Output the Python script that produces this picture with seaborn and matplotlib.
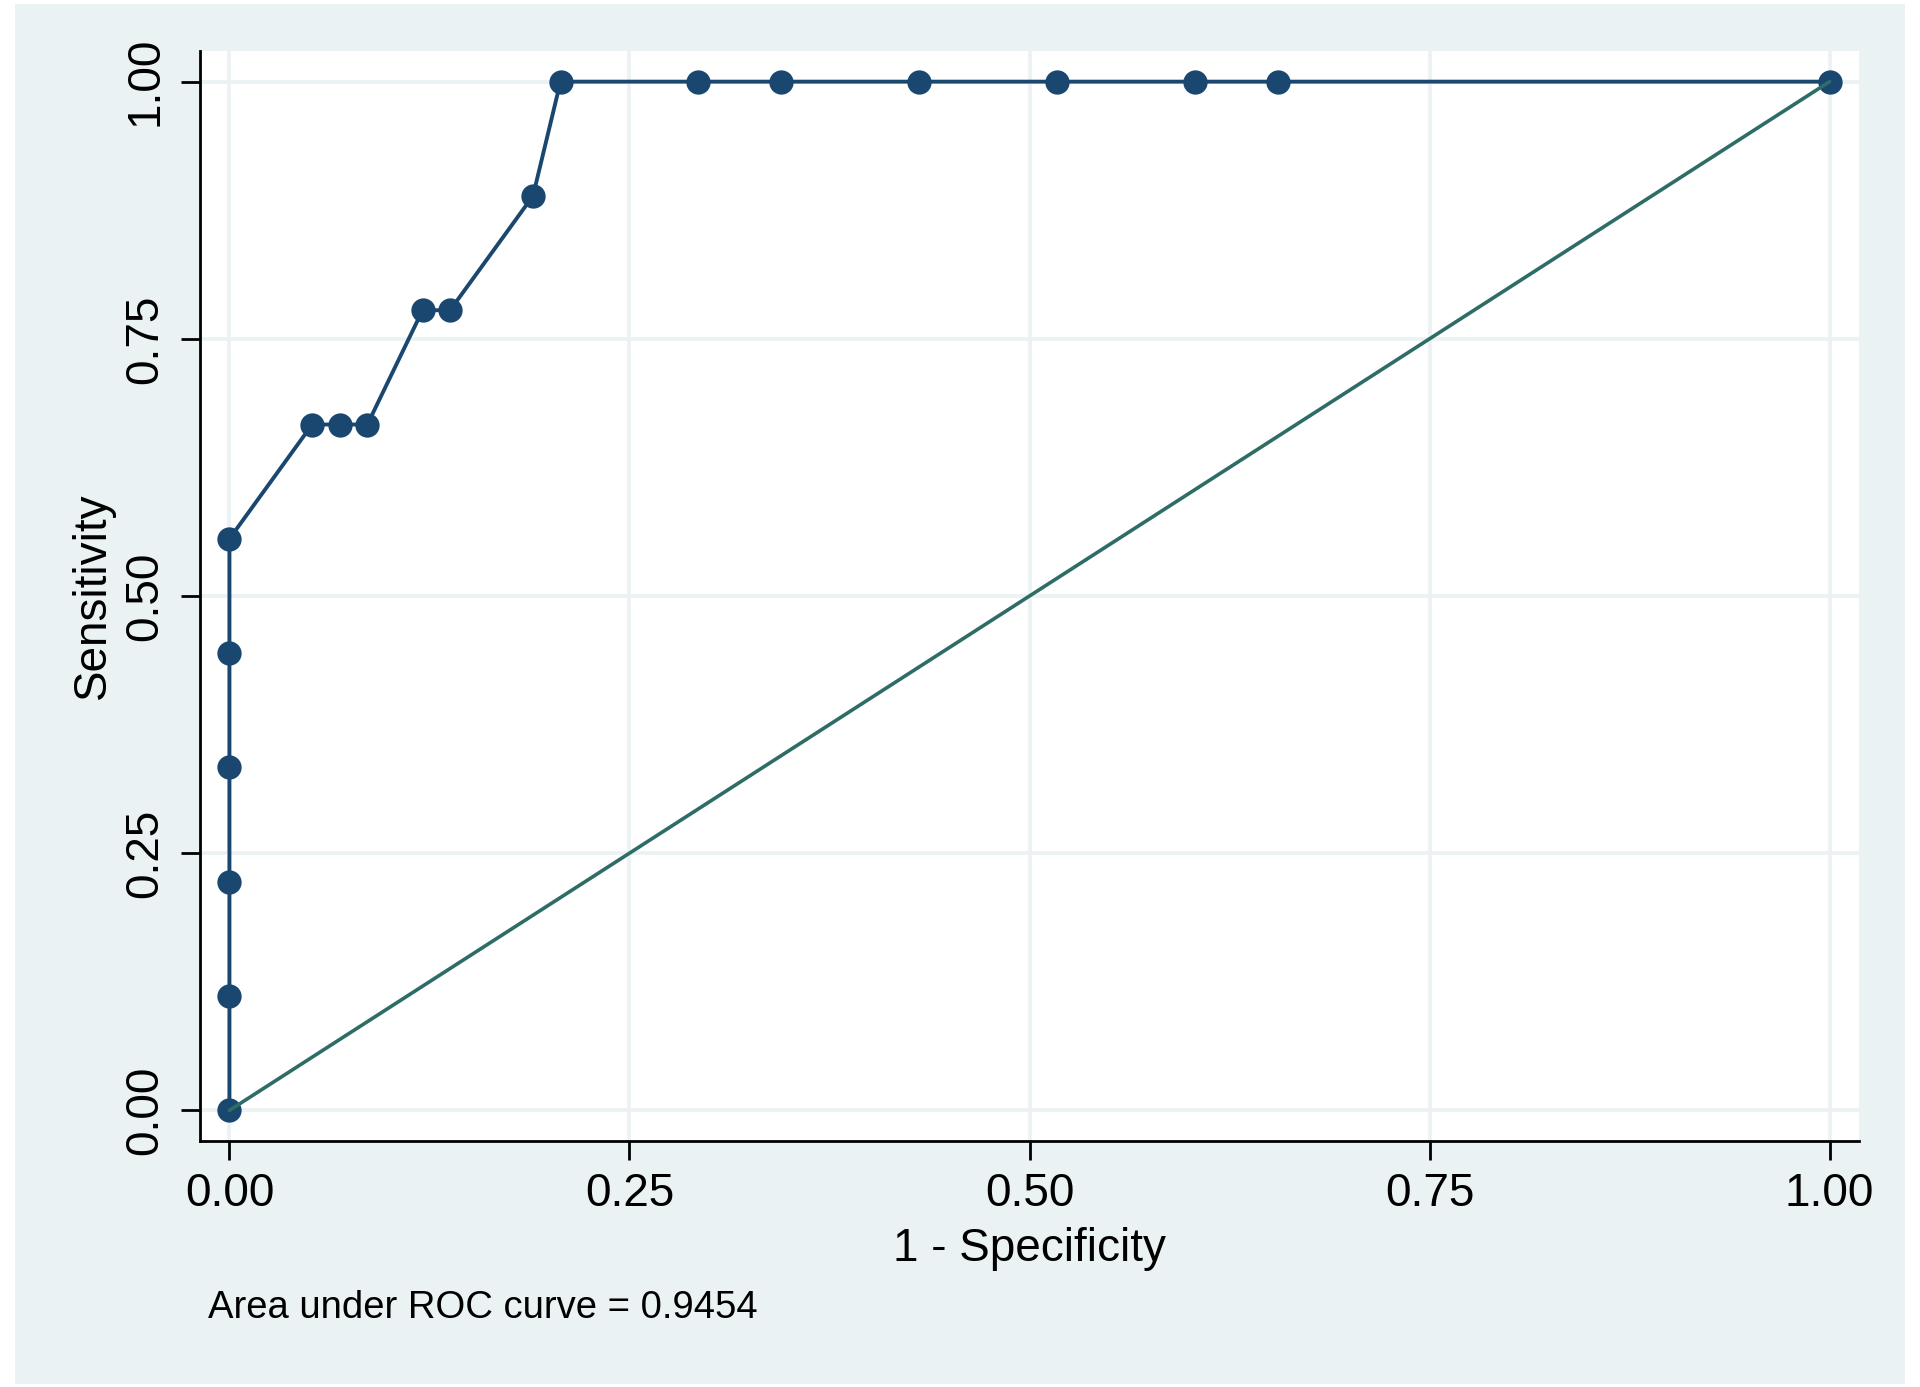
import matplotlib
matplotlib.use("Agg")
import matplotlib.pyplot as plt
import seaborn as sns
import pandas as pd
from matplotlib.patches import Rectangle

# ROC curve data (1 - specificity, sensitivity)
fpr = [0.0, 0.0, 0.0, 0.0, 0.0, 0.0, 0.0517, 0.0690, 0.0862, 0.1207, 0.1379,
       0.1897, 0.2069, 0.2931, 0.3448, 0.4310, 0.5172, 0.6034, 0.6552, 1.0]
tpr = [0.0, 0.1111, 0.2222, 0.3333, 0.4444, 0.5556, 0.6667, 0.6667, 0.6667, 0.7778, 0.7778,
       0.8889, 1.0, 1.0, 1.0, 1.0, 1.0, 1.0, 1.0, 1.0]
ref_x = [0.0, 1.0]
ref_y = [0.0, 1.0]
ticks = [0.0, 0.25, 0.5, 0.75, 1.0]
tick_labels = ["0.00", "0.25", "0.50", "0.75", "1.00"]
x_title = "1 - Specificity"
y_title = "Sensitivity"
note = "Area under ROC curve = 0.9454"

sns.set_style("white")
plt.rcParams['font.family'] = ['Liberation Sans', 'DejaVu Sans']
plt.rcParams['text.color'] = 'black'
plt.rcParams['axes.labelcolor'] = 'black'
plt.rcParams['xtick.color'] = 'black'
plt.rcParams['ytick.color'] = 'black'

W, H = 1920, 1387
fig = plt.figure(figsize=(W / 100, H / 100), dpi=100, facecolor="white")
bg = "#EAF2F3"
fig.patches.append(Rectangle((15 / W, 1 - 1384 / H), (1905 - 15) / W, (1384 - 4) / H,
                             transform=fig.transFigure, facecolor=bg, edgecolor="none", zorder=-10))

ax = fig.add_axes([200 / W, 1 - 1141 / H, (1859 - 200) / W, (1141 - 51) / H])
ax.set_facecolor("white")

df = pd.DataFrame({"fpr": fpr, "tpr": tpr})
ref = pd.DataFrame({"x": ref_x, "y": ref_y})

sns.lineplot(data=df, x="fpr", y="tpr", estimator=None, sort=True, ax=ax,
             color="#1a476f", linewidth=2.8, marker="o", markersize=17.5,
             markeredgewidth=0, zorder=3)
sns.lineplot(data=ref, x="x", y="y", estimator=None, ax=ax,
             color="#2d6d66", linewidth=2.6, zorder=4)

ax.set_xlim(-0.0184, 1.0184)
ax.set_ylim(-0.0298, 1.0298)
ax.set_xticks(ticks)
ax.set_yticks(ticks)
ax.set_xticklabels(tick_labels, fontsize=33)
ax.set_yticklabels(tick_labels, fontsize=33, rotation=90, va="center")
ax.grid(True, color=bg, linewidth=2.6, zorder=0)
ax.set_axisbelow(True)

for s in ["top", "right"]:
    ax.spines[s].set_visible(False)
for s in ["left", "bottom"]:
    ax.spines[s].set_color("black")
    ax.spines[s].set_linewidth(2.0)

ax.tick_params(axis="both", which="major", direction="out", length=13.5, width=2.0,
               color="black", bottom=True, left=True)
ax.tick_params(axis="x", pad=9)
ax.tick_params(axis="y", pad=10)

ax.set_xlabel(x_title, fontsize=33, labelpad=8)
ax.set_ylabel(y_title, fontsize=33, labelpad=6)

fig.text(208 / W, 1 - 1308 / H, note, fontsize=27.5, va="center", ha="left", color="black")

fig.savefig("out.png", dpi=100, facecolor="white")
